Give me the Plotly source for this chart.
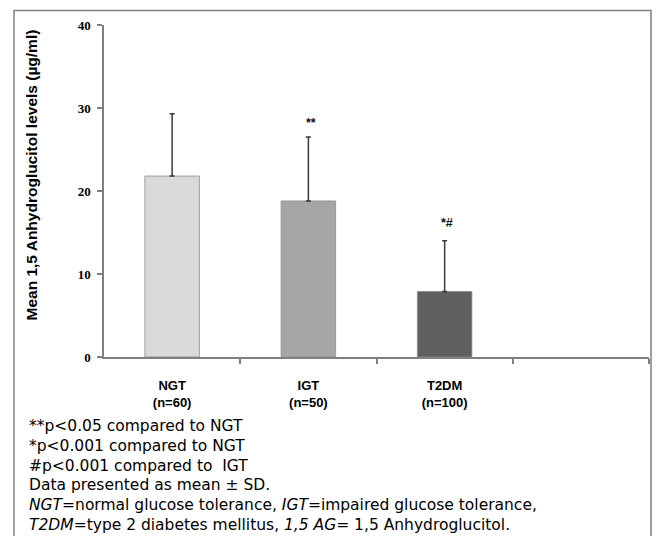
import plotly.graph_objects as go

# ---- data ----
categories = ["NGT", "IGT", "T2DM"]
group_sizes = ["(n=60)", "(n=50)", "(n=100)"]
means = [21.8, 18.8, 7.9]
sds = [7.5, 7.7, 6.1]
significance = ["", "**", "*#"]
sig_y = [None, 28.2, 16.2]
bar_colors = ["#d9d9d9", "#a6a6a6", "#5f5f5f"]
y_ticks = [0, 10, 20, 30, 40]
footnotes = [
    "**p<0.05 compared to NGT",
    "*p<0.001 compared to NGT",
    "#p<0.001 compared to  IGT",
    "Data presented as mean \u00b1 SD.",
    "<i>NGT</i>=normal glucose tolerance, <i>IGT</i>=impaired glucose tolerance,",
    "<i>T2DM</i>=type 2 diabetes mellitus, <i>1,5 AG</i>= 1,5 Anhydroglucitol.",
]
y_title = "Mean 1,5 Anhydroglucitol levels (\u00b5g/ml)"

# ---- layout geometry (page pixels); page body has an 8px margin ----
OFF = 8
W, H = 660 - 2 * OFF, 544 - 2 * OFF
L, T = 104 - OFF, 25 - OFF
R = W - (649 - OFF)
B = H - (357 - OFF)
PW, PH = W - L - R, H - T - B

def px_x(px):  # page pixel -> paper x
    return (px - OFF - L) / PW

def px_y(py):  # page pixel -> paper y
    return (H - B - (py - OFF)) / PH

xpos = list(range(len(categories)))
ticktext = [f"<b>{c}</b><br><b>{n}</b>" for c, n in zip(categories, group_sizes)]

fig = go.Figure()
fig.add_trace(go.Bar(
    x=xpos, y=means, width=0.4,
    marker=dict(color=bar_colors, line=dict(color="#8c8c8c", width=0.8)),
    error_y=dict(type="data", symmetric=False, array=sds, arrayminus=[0] * len(sds),
                 color="#3a3a3a", thickness=1.5, width=2.5),
    showlegend=False,
))

annotations = []
for i, (s, yy) in enumerate(zip(significance, sig_y)):
    if s:
        annotations.append(dict(x=xpos[i] + 0.02, y=yy, xref="x", yref="y", text=f"<b>{s}</b>",
                                showarrow=False, font=dict(family="Liberation Sans, Arial", size=12.5, color="#111")))

annotations.append(dict(x=px_x(21), y=px_y(175), xref="paper", yref="paper", text=f"<b>{y_title}</b>",
                        textangle=-90, showarrow=False,
                        font=dict(family="Liberation Sans, Arial", size=15.5, color="#000")))

line_y = [426, 446, 466, 485, 505, 525]
for txt, ly in zip(footnotes, line_y):
    annotations.append(dict(x=px_x(27), y=px_y(ly), xref="paper", yref="paper", text=txt,
                            xanchor="left", yanchor="middle", showarrow=False,
                            font=dict(family="DejaVu Sans", size=15.5, color="#000")))

fig.update_layout(
    width=W, height=H, autosize=False,
    margin=dict(l=L, r=R, t=T, b=B, pad=0),
    plot_bgcolor="white", paper_bgcolor="white",
    annotations=annotations,
    shapes=[dict(type="rect", xref="paper", yref="paper",
                 x0=px_x(14), x1=px_x(651), y0=px_y(580), y1=px_y(10.5),
                 line=dict(color="#808080", width=1.5), fillcolor="rgba(0,0,0,0)", layer="below")],
)
fig.update_xaxes(
    range=[-0.5, 3.5], tickvals=xpos, ticktext=ticktext, ticks="",
    showline=True, linecolor="#7f7f7f", linewidth=1.5, showgrid=False, zeroline=False,
    tickfont=dict(family="Liberation Sans, Arial", size=13, color="#000"),
    ticklabelstandoff=16,
    minor=dict(tickvals=[0.5, 1.5, 2.5, 3.5], ticks="outside", ticklen=5, tickcolor="#7f7f7f", tickwidth=1.5),
)
fig.update_yaxes(
    range=[0, 40], tickvals=y_ticks, ticks="outside", ticklen=5, tickcolor="#7f7f7f", tickwidth=1.5,
    showline=True, linecolor="#7f7f7f", linewidth=1.5, showgrid=False, zeroline=False,
    tickfont=dict(family="Liberation Serif, Times New Roman", size=13, color="#000", weight="bold"),
    ticklabelstandoff=4,
)

fig.write_html("out.html")
